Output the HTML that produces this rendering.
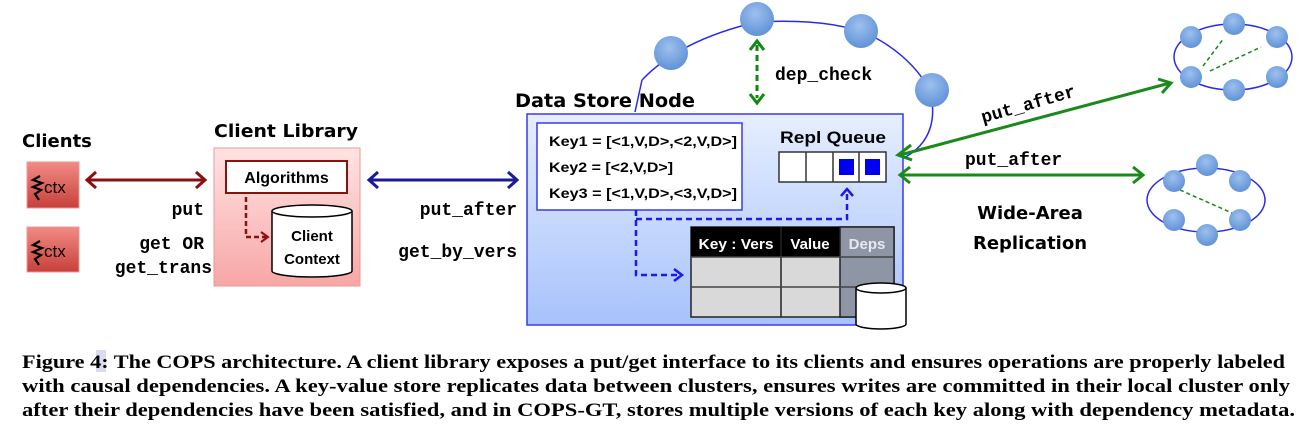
<!DOCTYPE html>
<html><head><meta charset="utf-8"><style>
html,body{margin:0;padding:0;background:#fff}
svg{display:block}
.sans{font-family:"DejaVu Sans","Liberation Sans",sans-serif;font-weight:bold}
.ls{font-family:"Liberation Sans",sans-serif;font-weight:bold}
.mono{font-family:"Liberation Mono",monospace;font-weight:bold}
.cap{font-family:"Liberation Serif","Times New Roman",serif;font-weight:bold;font-size:19px}
</style></head><body>
<svg width="1305" height="429" viewBox="0 0 1305 429" xmlns="http://www.w3.org/2000/svg">
<defs>
<linearGradient id="red" x1="0" y1="0" x2="0" y2="1"><stop offset="0" stop-color="#f28b85"/><stop offset="1" stop-color="#c8403a"/></linearGradient>
<linearGradient id="pink" x1="0" y1="0" x2="0" y2="1"><stop offset="0" stop-color="#ffe4e4"/><stop offset="1" stop-color="#f8a6a6"/></linearGradient>
<linearGradient id="blue" x1="0" y1="0" x2="0" y2="1"><stop offset="0" stop-color="#e6eeff"/><stop offset="1" stop-color="#a7c2fb"/></linearGradient>
<radialGradient id="node" cx="0.45" cy="0.35" r="0.7"><stop offset="0" stop-color="#9ec0ee"/><stop offset="1" stop-color="#5b8fd6"/></radialGradient>
</defs>

<!-- Clients -->
<text x="22" y="147" class="sans" font-size="18">Clients</text>
<rect x="27" y="162" width="52" height="46" fill="url(#red)" stroke="#e89a96"/>
<rect x="27" y="227" width="52" height="45" fill="url(#red)" stroke="#e89a96"/>
<path d="M40,176 L33,180 L42,183 L33,187 L41,190 L35,194 L39,200" fill="none" stroke="#000" stroke-width="2.2"/>
<path d="M40,241 L33,245 L42,248 L33,252 L41,255 L35,259 L39,265" fill="none" stroke="#000" stroke-width="2.2"/>
<text x="44" y="193" class="ls" font-size="17" style="font-weight:normal">ctx</text>
<text x="44" y="257" class="ls" font-size="17" style="font-weight:normal">ctx</text>
<line x1="88" y1="180" x2="204" y2="180" stroke="#8b1010" stroke-width="3"/>
<polyline points="96,172 87,180 96,188" fill="none" stroke="#8b1010" stroke-width="3"/>
<polyline points="196,172 205,180 196,188" fill="none" stroke="#8b1010" stroke-width="3"/>
<text x="204" y="215" class="mono" font-size="18" text-anchor="end">put</text>
<text x="204" y="249" class="mono" font-size="18" text-anchor="end">get OR</text>
<text x="212" y="273" class="mono" font-size="18" text-anchor="end">get_trans</text>

<!-- Client Library -->
<text x="214" y="137" class="sans" font-size="18" textLength="144" lengthAdjust="spacingAndGlyphs">Client Library</text>
<rect x="214" y="148" width="146" height="138" fill="url(#pink)" stroke="#e89a96"/>
<rect x="226" y="161" width="121" height="32" fill="#fff" stroke="#8b1010" stroke-width="2"/>
<text x="286.5" y="183" class="ls" font-size="16" text-anchor="middle">Algorithms</text>
<polyline points="246,197 246,237 266,237" fill="none" stroke="#8b1010" stroke-width="2.5" stroke-dasharray="5,3"/>
<polyline points="261,232 268,237 261,242" fill="none" stroke="#8b1010" stroke-width="2"/>
<path d="M272,211 L272,271 A40,6 0 0 0 352,271 L352,211" fill="#fff" stroke="#000" stroke-width="1.5"/>
<ellipse cx="312" cy="211" rx="40" ry="6" fill="#fff" stroke="#000" stroke-width="1.5"/>
<text x="312" y="241" class="ls" font-size="15" text-anchor="middle">Client</text>
<text x="312" y="264" class="ls" font-size="15" text-anchor="middle">Context</text>

<!-- blue arrow -->
<line x1="370" y1="180" x2="516" y2="180" stroke="#1a1a9a" stroke-width="3"/>
<polyline points="378,172 369,180 378,188" fill="none" stroke="#1a1a9a" stroke-width="3"/>
<polyline points="508,172 517,180 508,188" fill="none" stroke="#1a1a9a" stroke-width="3"/>
<text x="517" y="215" class="mono" font-size="18" text-anchor="end">put_after</text>
<text x="517" y="257" class="mono" font-size="18" text-anchor="end">get_by_vers</text>

<!-- ring -->
<path d="M642,80 Q680,40 757,22 Q830,18 870,35 Q910,55 930,90 Q942,140 900,160" fill="none" stroke="#2a2aee" stroke-width="1.5"/>
<line x1="635" y1="112" x2="642" y2="80" stroke="#2a2aee" stroke-width="1.5"/>

<!-- Data store -->
<text x="515" y="107" class="sans" font-size="19" textLength="180" lengthAdjust="spacingAndGlyphs">Data Store Node</text>
<rect x="527" y="114" width="376" height="211" fill="url(#blue)" stroke="#3a3aee" stroke-width="1.5"/>
<rect x="537" y="123" width="205" height="87" fill="#fff" stroke="#3a3aee" stroke-width="1.5"/>
<text x="549" y="146" class="ls" font-size="14" textLength="188" lengthAdjust="spacingAndGlyphs">Key1 = [&lt;1,V,D&gt;,&lt;2,V,D&gt;]</text>
<text x="549" y="172" class="ls" font-size="14" textLength="124" lengthAdjust="spacingAndGlyphs">Key2 = [&lt;2,V,D&gt;]</text>
<text x="549" y="198" class="ls" font-size="14" textLength="188" lengthAdjust="spacingAndGlyphs">Key3 = [&lt;1,V,D&gt;,&lt;3,V,D&gt;]</text>
<text x="780" y="143" class="ls" font-size="17" textLength="106" lengthAdjust="spacingAndGlyphs">Repl Queue</text>
<rect x="779" y="152" width="107" height="30" fill="#fff" stroke="#333" stroke-width="1.5"/>
<line x1="806" y1="152" x2="806" y2="182" stroke="#333" stroke-width="1.5"/>
<line x1="833" y1="152" x2="833" y2="182" stroke="#333" stroke-width="1.5"/>
<line x1="859" y1="152" x2="859" y2="182" stroke="#333" stroke-width="1.5"/>
<rect x="839" y="159" width="15" height="16" fill="#0000ee"/>
<rect x="865" y="159" width="15" height="16" fill="#0000ee"/>
<polyline points="636,210 636,275 680,275" fill="none" stroke="#1a1aee" stroke-width="2.5" stroke-dasharray="6,4"/>
<polyline points="674,269 682,275 674,281" fill="none" stroke="#1a1aee" stroke-width="2.5"/>
<polyline points="636,219 847,219 847,190" fill="none" stroke="#1a1aee" stroke-width="2.5" stroke-dasharray="6,4"/>
<polyline points="841,196 847,189 853,196" fill="none" stroke="#1a1aee" stroke-width="2.5"/>
<rect x="691" y="227" width="203" height="90" fill="#d9d9d9" stroke="#222" stroke-width="1.5"/>
<rect x="691" y="227" width="149" height="30" fill="#000"/>
<rect x="840" y="227" width="54" height="90" fill="#8e96a6" stroke="#222" stroke-width="1.5"/>
<line x1="781" y1="227" x2="781" y2="317" stroke="#222" stroke-width="1.5"/>
<line x1="691" y1="257" x2="894" y2="257" stroke="#444" stroke-width="1.5"/>
<line x1="691" y1="287" x2="894" y2="287" stroke="#444" stroke-width="1.5"/>
<text x="736" y="249" class="ls" font-size="15" fill="#fff" text-anchor="middle" textLength="75" lengthAdjust="spacingAndGlyphs">Key : Vers</text>
<text x="810" y="249" class="ls" font-size="15" fill="#fff" text-anchor="middle">Value</text>
<text x="867" y="249" class="ls" font-size="15" fill="#e8e8f0" text-anchor="middle">Deps</text>
<path d="M856,288 L856,324 A25,5 0 0 0 906,324 L906,288" fill="#fff" stroke="#000" stroke-width="1.5"/>
<ellipse cx="881" cy="288" rx="25" ry="5" fill="#fff" stroke="#000" stroke-width="1.5"/>

<!-- ring nodes -->
<circle cx="671" cy="53" r="17" fill="url(#node)"/>
<circle cx="757" cy="19" r="17" fill="url(#node)"/>
<circle cx="861" cy="31" r="17" fill="url(#node)"/>
<circle cx="932" cy="90" r="17" fill="url(#node)"/>
<line x1="757" y1="45" x2="757" y2="98" stroke="#118811" stroke-width="3" stroke-dasharray="6,4"/>
<polyline points="750,50 757,41 764,50" fill="none" stroke="#118811" stroke-width="3"/>
<polyline points="750,94 757,103 764,94" fill="none" stroke="#118811" stroke-width="3"/>
<text x="775" y="80" class="mono" font-size="18">dep_check</text>

<!-- wide-area -->
<line x1="900" y1="155" x2="1170" y2="83" stroke="#1a8a1a" stroke-width="3"/>
<polyline points="1158,79 1171,83 1162,93" fill="none" stroke="#1a8a1a" stroke-width="3"/>
<polyline points="911,145 898,155 912,160" fill="none" stroke="#1a8a1a" stroke-width="3"/>
<line x1="900" y1="175" x2="1142" y2="175" stroke="#1a8a1a" stroke-width="3"/>
<polyline points="1133,167 1143,175 1133,183" fill="none" stroke="#1a8a1a" stroke-width="3"/>
<polyline points="910,167 900,175 910,183" fill="none" stroke="#1a8a1a" stroke-width="3"/>
<text x="983" y="123" class="mono" font-size="18" transform="rotate(-16 983 123)">put_after</text>
<text x="965" y="165" class="mono" font-size="18">put_after</text>
<text x="1030" y="219" class="sans" font-size="18" text-anchor="middle">Wide-Area</text>
<text x="1030" y="249" class="sans" font-size="18" text-anchor="middle">Replication</text>

<ellipse cx="1233" cy="57" rx="59" ry="33" fill="none" stroke="#2a2aee" stroke-width="1.5"/>
<g fill="url(#node)">
<circle cx="1191" cy="37" r="11"/><circle cx="1234" cy="24" r="11"/><circle cx="1277" cy="37" r="11"/>
<circle cx="1191" cy="77" r="11"/><circle cx="1234" cy="90" r="11"/><circle cx="1277" cy="77" r="11"/>
</g>
<line x1="1203" y1="66" x2="1224" y2="38" stroke="#118811" stroke-width="1.5" stroke-dasharray="4,3"/>
<line x1="1210" y1="71" x2="1261" y2="47" stroke="#118811" stroke-width="1.5" stroke-dasharray="4,3"/>
<ellipse cx="1206" cy="200" rx="59" ry="32" fill="none" stroke="#2a2aee" stroke-width="1.5"/>
<g fill="url(#node)">
<circle cx="1174" cy="181" r="11"/><circle cx="1207" cy="165" r="11"/><circle cx="1240" cy="181" r="11"/>
<circle cx="1174" cy="220" r="11"/><circle cx="1207" cy="235" r="11"/><circle cx="1240" cy="220" r="11"/>
</g>
<line x1="1180" y1="190" x2="1232" y2="213" stroke="#118811" stroke-width="1.5" stroke-dasharray="4,3"/>

<!-- caption -->
<rect x="96" y="350" width="10" height="22" fill="#d8dcec"/>
<text x="22" y="368" class="cap" textLength="1263" lengthAdjust="spacingAndGlyphs">Figure 4: The COPS architecture. A client library exposes a put/get interface to its clients and ensures operations are properly labeled</text>
<text x="22" y="392" class="cap" textLength="1268" lengthAdjust="spacingAndGlyphs">with causal dependencies. A key-value store replicates data between clusters, ensures writes are committed in their local cluster only</text>
<text x="22" y="416" class="cap" textLength="1273" lengthAdjust="spacingAndGlyphs">after their dependencies have been satisfied, and in COPS-GT, stores multiple versions of each key along with dependency metadata.</text>
</svg>
</body></html>
